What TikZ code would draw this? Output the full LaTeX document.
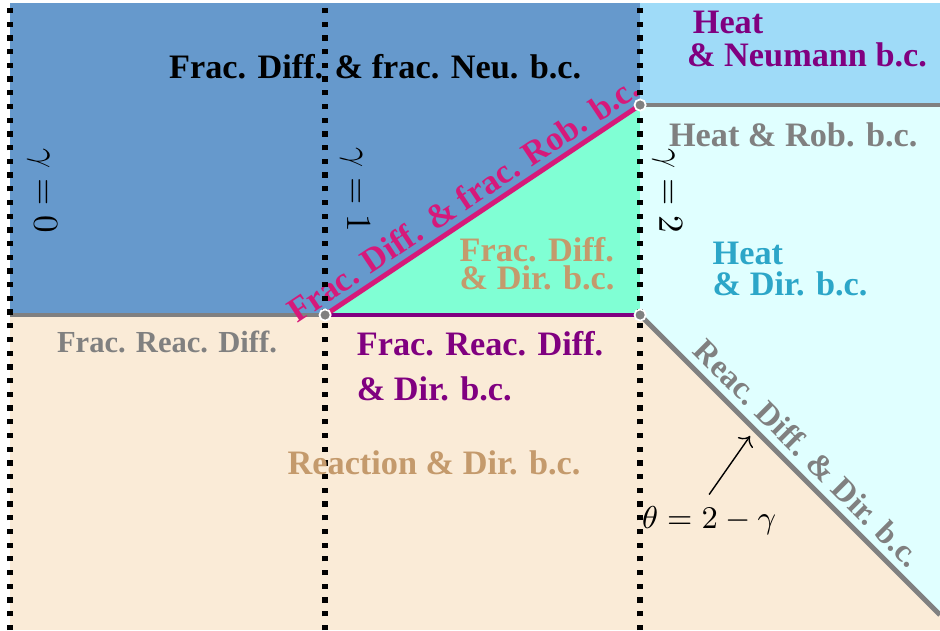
\documentclass[tikz,border=0pt]{standalone}
\usepackage{fontspec}
\setmainfont{Liberation Serif}
\usetikzlibrary{arrows.meta,calc}
\definecolor{rblue}{HTML}{6699CC}
\definecolor{rsky}{HTML}{9FDBF8}
\definecolor{raqua}{HTML}{80FFD4}
\definecolor{rcyan}{HTML}{E0FFFF}
\definecolor{rbeige}{HTML}{FAEBD7}
\definecolor{tpink}{HTML}{D6197A}
\definecolor{tpurple}{HTML}{800080}
\definecolor{tgray}{HTML}{808080}
\definecolor{ttan}{HTML}{C49A6C}
\definecolor{tcyan}{HTML}{2CA6C8}
\tikzset{
  every picture/.style={font=\bfseries\fontsize{9.75}{11.7}\selectfont},
  lbl/.style={inner sep=1pt,align=left},
  bnd/.style={line width=1.4pt},
  vdots/.style={draw=black,line width=1.5pt,dash pattern=on 1.5pt off 2.4pt},
  gam/.style={font=\normalfont,rotate=-90,inner sep=1pt},
  jn/.style={circle,fill=tgray,draw=white,line width=0.5pt,inner sep=0pt,minimum size=3.2pt},
}
\begin{document}
\begin{tikzpicture}[x=3.15cm,y=3.15cm]
  \useasboundingbox (-0.032,-1) rectangle (2.952,1.0);
  % corners
  \coordinate (o) at (0,0);
  \coordinate (p1) at (1,0);
  \coordinate (p2) at (2,0);
  \coordinate (q2) at (2,2/3);
  \coordinate (qr) at (2.952,2/3);
  \coordinate (dr) at (2.952,-0.952);
  % regions
  \fill[rbeige] (0,-1) rectangle (2.952,0);
  \fill[rblue] (0,0) -- (p1) -- (q2) -- (2,0.99) -- (0,0.99) -- cycle;
  \fill[raqua] (p1) -- (q2) -- (p2) -- cycle;
  \fill[rsky] (q2) rectangle (2.952,0.99);
  \fill[rcyan] (p2) -- (q2) -- (qr) -- (dr) -- cycle;
  % boundaries
  \draw[bnd,tgray] (o) -- (p1);
  \draw[bnd,tpurple] (p1) -- (p2);
  \draw[bnd,tgray] (q2) -- (qr);
  \draw[bnd,tpink] (p1) -- node[pos=0.473,above,sloped,text=tpink,inner sep=1.5pt] (rob) {Frac. Diff. \& frac. Rob. b.c.} (q2);
  \draw[bnd,tgray] (p2) -- node[pos=0.51,above,sloped,text=tgray,inner sep=2pt,font=\bfseries\fontsize{9.2}{11}\selectfont] (rdd) {Reac. Diff. \& Dir. b.c.} (dr);
  \foreach \g in {0,1,2} \draw[vdots] (\g,-1) -- (\g,0.99);
  \node[jn] at (p1) {};
  \node[jn] at (p2) {};
  \node[jn] at (q2) {};
  % labels
  \node[gam] (g0) at (0.102,0.394) {$\gamma=0$};
  \node[gam] (g1) at (1.095,0.397) {$\gamma=1$};
  \node[gam] (g2) at (2.086,0.394) {$\gamma=2$};
  \node[lbl] (neu) at (1.159,0.787) {Frac. Diff. \& frac. Neu. b.c.};
  \node[lbl,text=ttan,font=\bfseries\fontsize{9.75}{6}\selectfont] (fdd) at (1.673,0.162) {Frac. Diff.\\\& Dir. b.c.};
  \node[lbl,text=tpurple,font=\bfseries\fontsize{9.75}{9.4}\selectfont] (hn) at (2.530,0.876) {\,Heat\\\& Neumann b.c.};
  \node[lbl,text=tgray] (hr) at (2.486,0.571) {Heat \& Rob. b.c.};
  \node[lbl,text=tcyan,font=\bfseries\fontsize{9.75}{8.8}\selectfont] (hd) at (2.476,0.146) {Heat\\\& Dir. b.c.};
  \node[lbl,text=tgray,font=\bfseries\fontsize{8.7}{10}\selectfont] (frd) at (0.498,-0.086) {Frac. Reac. Diff.};
  \node[lbl,text=tpurple,font=\bfseries\fontsize{9.75}{12.8}\selectfont] (frdd) at (1.492,-0.162) {Frac. Reac. Diff.\\\& Dir. b.c.};
  \node[lbl,text=ttan] (rd) at (1.346,-0.470) {Reaction \& Dir. b.c.};
  \node[font=\normalfont\fontsize{9}{11}\selectfont] (th) at (2.219,-0.654) {$\theta=2-\gamma$};
  \coordinate (tip) at (2.349,-0.384);
  \draw[->] (th.north) -- (tip);
\end{tikzpicture}
\end{document}
